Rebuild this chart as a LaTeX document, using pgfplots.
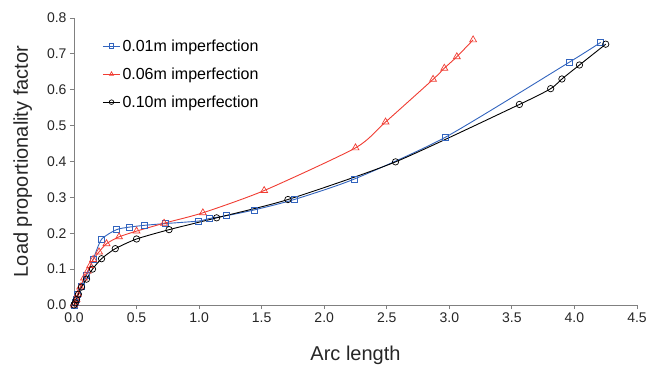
\documentclass[border=0pt]{standalone}
\usepackage{pgfplots}
\pgfplotsset{compat=1.18}
\usepackage{fontspec}
\setmainfont{Liberation Sans}
\definecolor{cblue}{RGB}{50,100,190}
\definecolor{cred}{RGB}{240,60,50}
\definecolor{axgray}{RGB}{128,128,128}
\begin{document}
\begin{tikzpicture}
\useasboundingbox (-74pt,-65pt) rectangle (576pt,305pt);
\begin{axis}[
  scale only axis,
  width=563pt, height=287pt,
  xmin=0, xmax=4.5, ymin=0, ymax=0.8,
  axis x line*=bottom, axis y line*=left,
  axis line style={axgray, line width=0.8pt},
  tick style={axgray, line width=0.8pt},
  tick align=outside,
  major tick length=4pt,
  xtick={0,0.5,...,4.5}, ytick={0,0.1,...,0.8},
  xticklabel style={/pgf/number format/.cd, fixed, fixed zerofill, precision=1},
  yticklabel style={/pgf/number format/.cd, fixed, fixed zerofill, precision=1},
  /pgf/number format/assume math mode=true,
  ticklabel style={font=\fontsize{14}{16}\selectfont, text=black!85},
  xlabel={Arc length}, ylabel={Load proportionality factor},
  label style={font=\fontsize{20}{23}\selectfont, text=black!85},
  xlabel style={yshift=-17pt},
  ylabel style={yshift=8pt},
  legend style={draw=none, fill=none, at={(0.045,0.94)}, anchor=north west,
    font=\fontsize{16}{18}\selectfont, row sep=11pt},
  legend cell align=left,
  legend image post style={mark size=2.3pt},
  every axis plot/.append style={line width=0.9pt, mark size=3pt, mark options={solid, fill=none, line width=0.7pt}},
]
\addplot[cblue, mark=square, smooth, tension=0.4] coordinates {
(0,0) (0.01,0.008) (0.02,0.017) (0.03,0.03) (0.056,0.053) (0.10,0.083) (0.153,0.127)
(0.22,0.183) (0.34,0.21) (0.44,0.217) (0.56,0.222) (0.73,0.227) (0.995,0.234)
(1.08,0.241) (1.22,0.249) (1.44,0.265) (1.76,0.294) (2.24,0.351) (2.97,0.468)
(3.96,0.677) (4.21,0.732)};
\addlegendentry{0.01m imperfection}
\addplot[cred, mark=triangle, mark size=4pt, smooth, tension=0.4] coordinates {
(0,0) (0.01,0.006) (0.02,0.015) (0.03,0.03) (0.05,0.05) (0.08,0.075) (0.11,0.095)
(0.13,0.110) (0.153,0.127) (0.2,0.148) (0.26,0.171) (0.36,0.19) (0.50,0.206)
(0.72,0.228) (1.03,0.257) (1.52,0.319) (2.25,0.438) (2.49,0.51) (2.87,0.629)
(2.96,0.66) (3.06,0.692) (3.19,0.739)};
\addlegendentry{0.06m imperfection}
\addplot[black, mark=o, mark size=3.2pt, smooth, tension=0.4] coordinates {
(0,0) (0.01,0.006) (0.02,0.015) (0.035,0.03) (0.06,0.05) (0.10,0.072) (0.148,0.1)
(0.22,0.129) (0.33,0.157) (0.50,0.184) (0.76,0.21) (1.14,0.243) (1.71,0.294)
(2.57,0.399) (3.56,0.559) (3.81,0.603) (3.90,0.63) (4.04,0.669) (4.25,0.727)};
\addlegendentry{0.10m imperfection}
\end{axis}
\end{tikzpicture}
\end{document}
